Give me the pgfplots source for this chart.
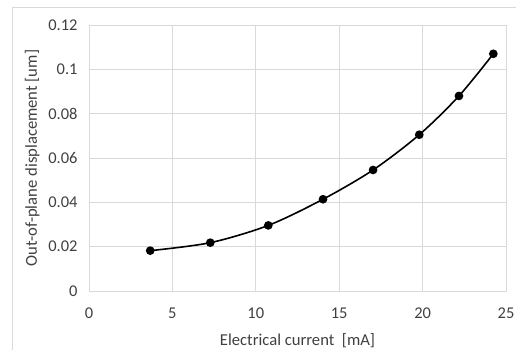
\documentclass[border=0pt]{standalone}
\usepackage{pgfplots}
\pgfplotsset{compat=1.18}
\usepackage{fontspec}
\setmainfont{Carlito}
\definecolor{tickc}{HTML}{404040}
\definecolor{gridc}{HTML}{D9D9D9}
\begin{document}
\begin{tikzpicture}[x=1bp,y=1bp]
\useasboundingbox (0,0) rectangle (516,349);
\draw[gridc, line width=1bp] (12,-5) -- (12,341) -- (530,341);
\begin{axis}[
  at={(89bp,58bp)}, anchor=south west,
  scale only axis, width=417bp, height=266bp,
  xmin=0, xmax=25, ymin=0, ymax=0.12,
  xtick={0,5,...,25}, ytick={0,0.02,...,0.12},
  yticklabels={0,0.02,0.04,0.06,0.08,0.1,0.12},
  grid=major, major grid style={gridc, line width=0.9bp},
  axis line style={gridc, line width=0.9bp},
  tick style={draw=none},
  tick label style={font=\fontsize{16.5}{18}\selectfont, text=tickc},
  /pgf/number format/assume math mode=true,
  xticklabel style={yshift=-13bp},
  yticklabel style={xshift=-8bp},
  label style={font=\fontsize{16.7}{19}\selectfont, text=tickc},
  xlabel={Electrical current\ \ [mA]},
  ylabel={Out-of-plane displacement [um]},
  xlabel style={yshift=-8bp},
  ylabel style={yshift=2bp},
]
\addplot[black, line width=1.6bp, smooth, tension=0.5, mark=*, mark size=3.5bp, mark options={fill=black}]
coordinates {
(3.67,0.0182) (7.27,0.0218) (10.75,0.0296) (14.03,0.0414) (17.03,0.0546) (19.80,0.0705) (22.18,0.0880) (24.24,0.1070)
};
\end{axis}
\end{tikzpicture}
\end{document}
